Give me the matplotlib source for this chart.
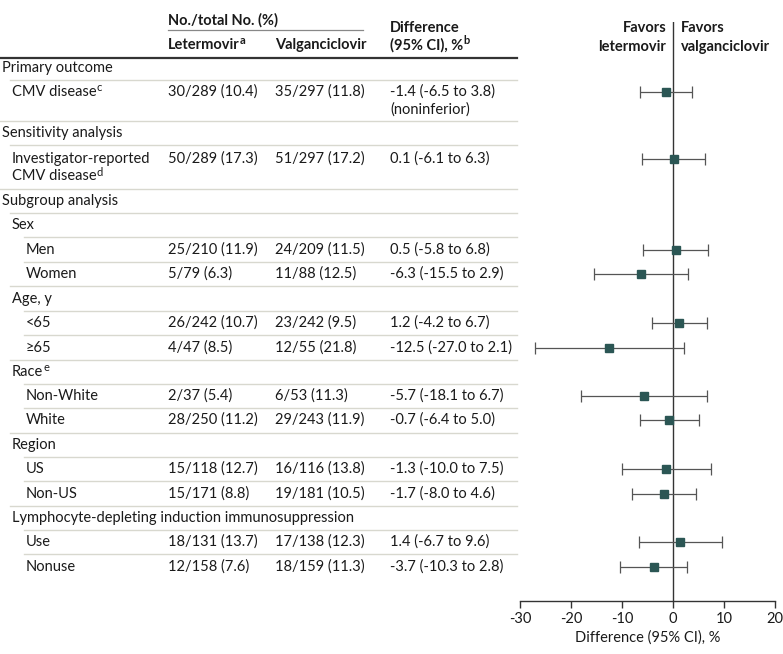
import matplotlib
matplotlib.use("Agg")
import matplotlib.pyplot as plt

FONT = "Lato"
plt.rcParams['font.family'] = [FONT, 'DejaVu Sans']
plt.rcParams['axes.unicode_minus'] = False

# ---- data ----
labels = ["Primary outcome", "CMV disease", "Sensitivity analysis",
          "Investigator-reported\nCMV disease", "Subgroup analysis", "Sex", "Men", "Women",
          "Age, y", "<65", "≥65", "Race", "Non-White", "White", "Region", "US", "Non-US",
          "Lymphocyte-depleting induction immunosuppression", "Use", "Nonuse"]
label_notes = ["", "c", "", "d", "", "", "", "", "", "", "", "e", "", "", "", "", "", "", "", ""]
levels = [0, 1, 0, 1, 0, 1, 2, 2, 1, 2, 2, 1, 2, 2, 1, 2, 2, 1, 2, 2]
letermovir = ["", "30/289 (10.4)", "", "50/289 (17.3)", "", "", "25/210 (11.9)", "5/79 (6.3)",
              "", "26/242 (10.7)", "4/47 (8.5)", "", "2/37 (5.4)", "28/250 (11.2)", "",
              "15/118 (12.7)", "15/171 (8.8)", "", "18/131 (13.7)", "12/158 (7.6)"]
valganciclovir = ["", "35/297 (11.8)", "", "51/297 (17.2)", "", "", "24/209 (11.5)", "11/88 (12.5)",
                  "", "23/242 (9.5)", "12/55 (21.8)", "", "6/53 (11.3)", "29/243 (11.9)", "",
                  "16/116 (13.8)", "19/181 (10.5)", "", "17/138 (12.3)", "18/159 (11.3)"]
difference = ["", "-1.4 (-6.5 to 3.8)\n(noninferior)", "", "0.1 (-6.1 to 6.3)", "", "",
              "0.5 (-5.8 to 6.8)", "-6.3 (-15.5 to 2.9)", "", "1.2 (-4.2 to 6.7)",
              "-12.5 (-27.0 to 2.1)", "", "-5.7 (-18.1 to 6.7)", "-0.7 (-6.4 to 5.0)", "",
              "-1.3 (-10.0 to 7.5)", "-1.7 (-8.0 to 4.6)", "", "1.4 (-6.7 to 9.6)",
              "-3.7 (-10.3 to 2.8)"]
est = [None, -1.4, None, 0.1, None, None, 0.5, -6.3, None, 1.2, -12.5, None, -5.7, -0.7, None,
       -1.3, -1.7, None, 1.4, -3.7]
lo = [None, -6.5, None, -6.1, None, None, -5.8, -15.5, None, -4.2, -27.0, None, -18.1, -6.4, None,
      -10.0, -8.0, None, -6.7, -10.3]
hi = [None, 3.8, None, 6.3, None, None, 6.8, 2.9, None, 6.7, 2.1, None, 6.7, 5.0, None,
      7.5, 4.6, None, 9.6, 2.8]
xticks = [-30, -20, -10, 0, 10, 20]

# ---- layout (pixel coordinates) ----
row_y = [68, 92, 133, 159, 201, 225, 250, 274, 299, 323, 348, 372, 396, 420, 445, 469, 494, 518, 542, 567]
sep_y = [80, 121, 145, 189, 213, 237, 262, 286, 311, 335, 360, 384, 408, 433, 457, 481, 506, 530, 554]
indent_text = {0: 2, 1: 12, 2: 26}
indent_line = {0: 0, 1: 10, 2: 24}
line_h = 17.5
FS = 10.5
SUP = 8
TXT = "#1a1a1a"
SEP = "#d8d8cf"

fig = plt.figure(figsize=(7.83, 6.54), dpi=100)
ax0 = fig.add_axes([0, 0, 1, 1])
ax0.set_xlim(0, 783)
ax0.set_ylim(654, 0)
ax0.axis("off")
renderer = fig.canvas.get_renderer()


def text_sup(x, y, s, sup, **kw):
    t = ax0.text(x, y, s, fontsize=FS, va="center", color=TXT, **kw)
    if sup:
        bb = t.get_window_extent(renderer)
        ax0.text(bb.x1 + 0.2, y - 4.5, sup, fontsize=SUP, va="center", color=TXT, **kw)
    return t


# header
ax0.text(168, 20, "No./total No. (%)", fontsize=FS, fontweight="bold", va="center", color=TXT)
ax0.plot([168, 363], [29.5, 29.5], color="#888888", lw=0.9)
text_sup(168, 45, "Letermovir", "a", fontweight="bold")
ax0.text(275, 45, "Valganciclovir", fontsize=FS, fontweight="bold", va="center", color=TXT)
ax0.text(390, 28, "Difference", fontsize=FS, fontweight="bold", va="center", color=TXT)
text_sup(390, 45, "(95% CI), %", "b", fontweight="bold")
ax0.plot([0, 517], [58, 58], color="#333333", lw=1.6)

for i, lab in enumerate(labels):
    y = row_y[i]
    x = indent_text[levels[i]]
    parts = lab.split("\n")
    for k, part in enumerate(parts):
        sup = label_notes[i] if k == len(parts) - 1 else ""
        text_sup(x, y + k * line_h, part, sup)
    ax0.text(168, y, letermovir[i], fontsize=FS, va="center", color=TXT)
    ax0.text(275, y, valganciclovir[i], fontsize=FS, va="center", color=TXT)
    for k, part in enumerate(difference[i].split("\n")):
        if part:
            ax0.text(390, y + k * line_h, part, fontsize=FS, va="center", color=TXT)

for j, sy in enumerate(sep_y):
    nxt = levels[j + 1]
    ax0.plot([indent_line[nxt], 517], [sy, sy], color=SEP, lw=1.0)

# forest axes
ax = fig.add_axes([520 / 783, (654 - 601) / 654, 255 / 783, (601 - 22) / 654])
ax.set_xlim(-30, 20)
ax.set_ylim(601, 22)
ax.patch.set_alpha(0)
for s in ["top", "right", "left"]:
    ax.spines[s].set_visible(False)
ax.spines["bottom"].set_color("#333333")
ax.spines["bottom"].set_linewidth(1.0)
ax.set_yticks([])
ax.set_xticks(xticks)
ax.set_xticklabels([str(t) for t in xticks])
ax.tick_params(axis="x", length=5, width=1.0, color="#333333", labelsize=FS, labelcolor=TXT, pad=3)
ax.set_xlabel("Difference (95% CI), %", fontsize=FS, color=TXT, labelpad=3)
ax.axvline(0, color="#333333", lw=1.0)

for i in range(len(labels)):
    if est[i] is None:
        continue
    y = row_y[i]
    ax.errorbar(est[i], y, xerr=[[est[i] - lo[i]], [hi[i] - est[i]]], fmt="s", color="#2b5654",
                ecolor="#555555", elinewidth=0.9, capsize=4, capthick=0.9, markersize=5.5,
                zorder=3)

ax.text(-1.3, 28, "Favors", fontsize=FS, fontweight="bold", ha="right", va="center", color=TXT)
ax.text(-1.3, 47, "letermovir", fontsize=FS, fontweight="bold", ha="right", va="center", color=TXT)
ax.text(1.6, 28, "Favors", fontsize=FS, fontweight="bold", ha="left", va="center", color=TXT)
ax.text(1.6, 47, "valganciclovir", fontsize=FS, fontweight="bold", ha="left", va="center", color=TXT)

fig.savefig("out.png", dpi=100)
